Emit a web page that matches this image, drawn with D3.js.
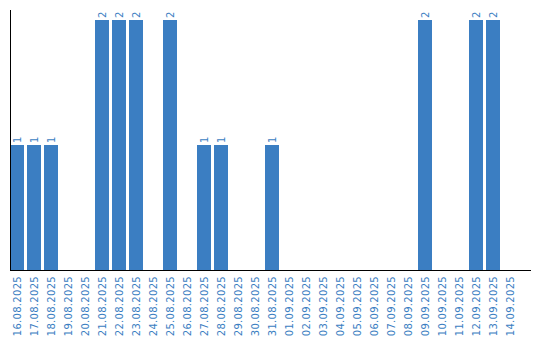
<!DOCTYPE html>
<html><head><meta charset="utf-8">
<script src="https://cdn.jsdelivr.net/npm/d3@7"></script>
<style>body{margin:0;background:#fff}svg{display:block}</style>
</head><body><svg id="c" width="540" height="340"></svg>
<script>
const categories = ["16.08.2025","17.08.2025","18.08.2025","19.08.2025","20.08.2025","21.08.2025","22.08.2025","23.08.2025","24.08.2025","25.08.2025","26.08.2025","27.08.2025","28.08.2025","29.08.2025","30.08.2025","31.08.2025","01.09.2025","02.09.2025","03.09.2025","04.09.2025","05.09.2025","06.09.2025","07.09.2025","08.09.2025","09.09.2025","10.09.2025","11.09.2025","12.09.2025","13.09.2025","14.09.2025"];
const values = [1,1,1,0,0,2,2,2,0,2,0,1,1,0,0,1,0,0,0,0,0,0,0,0,2,0,0,2,2,0];
const color = "#3b7ec2";
const svg = d3.select("#c");
const x = d3.scaleBand().domain(categories).range([10,520]).padding(0);
const y = d3.scaleLinear().domain([0,2]).range([270,20]);
const bw = x.bandwidth() - 3;
const data = categories.map((c,i)=>({c,v:values[i]})).filter(d=>d.v>0);
svg.selectAll("rect.bar").data(data)
  .enter().append("rect").attr("x",d=>x(d.c)).attr("width",bw)
  .attr("y",d=>y(d.v)).attr("height",d=>y(0)-y(d.v)).attr("fill",color);
svg.selectAll("text.val").data(data)
  .enter().append("text").attr("transform",d=>`translate(${x(d.c)+bw/2+3.5},${y(d.v)-2}) rotate(-90)`)
  .attr("fill",color).attr("font-family","DejaVu Sans").attr("font-size",10).text(d=>d.v);
// axes
svg.append("line").attr("x1",10.5).attr("x2",10.5).attr("y1",10).attr("y2",270).attr("stroke","#000");
svg.append("line").attr("x1",10).attr("x2",531).attr("y1",270.5).attr("y2",270.5).attr("stroke","#000");
svg.selectAll("text.cat").data(categories).enter().append("text")
  .attr("transform",d=>`translate(${x(d)+bw/2+3.5},276) rotate(-90)`)
  .attr("text-anchor","end").attr("fill",color).attr("font-family","DejaVu Sans").attr("font-size",10)
  .attr("letter-spacing",0.3).text(d=>d);
</script></body></html>
